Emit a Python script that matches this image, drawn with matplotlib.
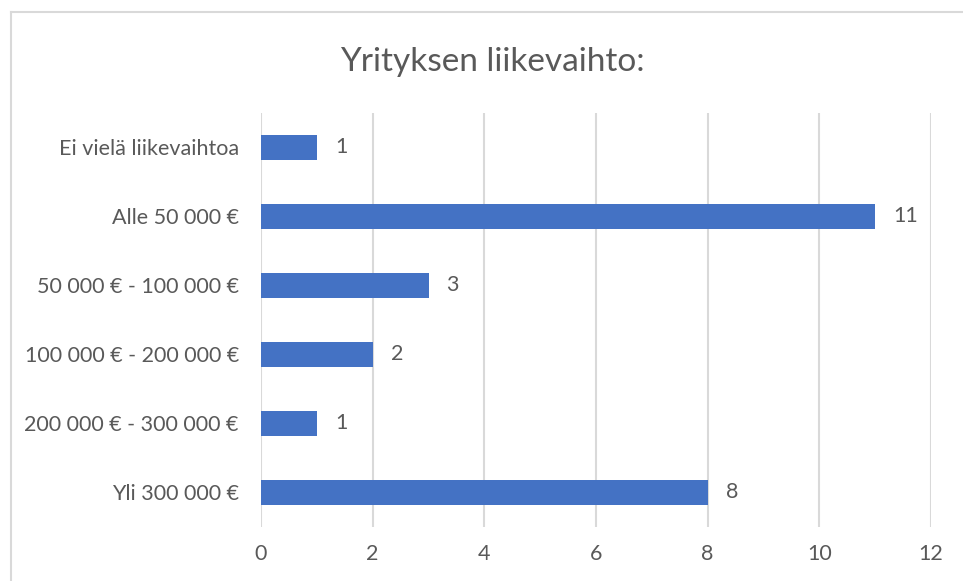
import matplotlib.pyplot as plt
from matplotlib.lines import Line2D

categories = ['Ei vielä liikevaihtoa', 'Alle 50 000 €', '50 000 € - 100 000 €',
              '100 000 € - 200 000 €', '200 000 € - 300 000 €', 'Yli 300 000 €']
values = [1, 11, 3, 2, 1, 8]
xticks = [0, 2, 4, 6, 8, 10, 12]

W, H = 963, 581
text_gray = '#595959'
grid_gray = '#D9D9D9'

plt.rcParams['font.family'] = ['Lato', 'DejaVu Sans']

fig = plt.figure(figsize=(W / 100, H / 100), dpi=100)
ax = fig.add_axes([261 / W, 1 - 527 / H, (931 - 261) / W, (527 - 113) / H])

pos = list(range(len(categories)))
ax.barh(pos, values, height=0.35, color='#4472C4', zorder=3)
for p, v in zip(pos, values):
    ax.annotate(str(v), (v, p), xytext=(13, 0), textcoords='offset points',
                va='center', ha='left', fontsize=15.5, color=text_gray)

ax.set_ylim(len(categories) - 0.5, -0.5)
ax.set_xlim(0, 12)
ax.set_yticks(pos)
ax.set_yticklabels(categories)
ax.set_xticks(xticks)
ax.set_xticklabels([str(t) for t in xticks])
ax.tick_params(axis='both', length=0, labelsize=15.5, labelcolor=text_gray)
ax.tick_params(axis='y', pad=16)
ax.tick_params(axis='x', pad=12)
ax.grid(axis='x', color=grid_gray, linewidth=1.5, zorder=0)
for s in ax.spines.values():
    s.set_visible(False)

fig.text(492 / W, 1 - 62 / H, 'Yrityksen liikevaihto:', ha='center', va='center',
         fontsize=24, color=text_gray)

# chart frame (only left and top edges visible)
fig.add_artist(Line2D([11 / W, 11 / W], [0, 1 - 12 / H], color=grid_gray, linewidth=1.5))
fig.add_artist(Line2D([11 / W, 1], [1 - 12 / H, 1 - 12 / H], color=grid_gray, linewidth=1.5))

fig.savefig('out.png', dpi=100)
